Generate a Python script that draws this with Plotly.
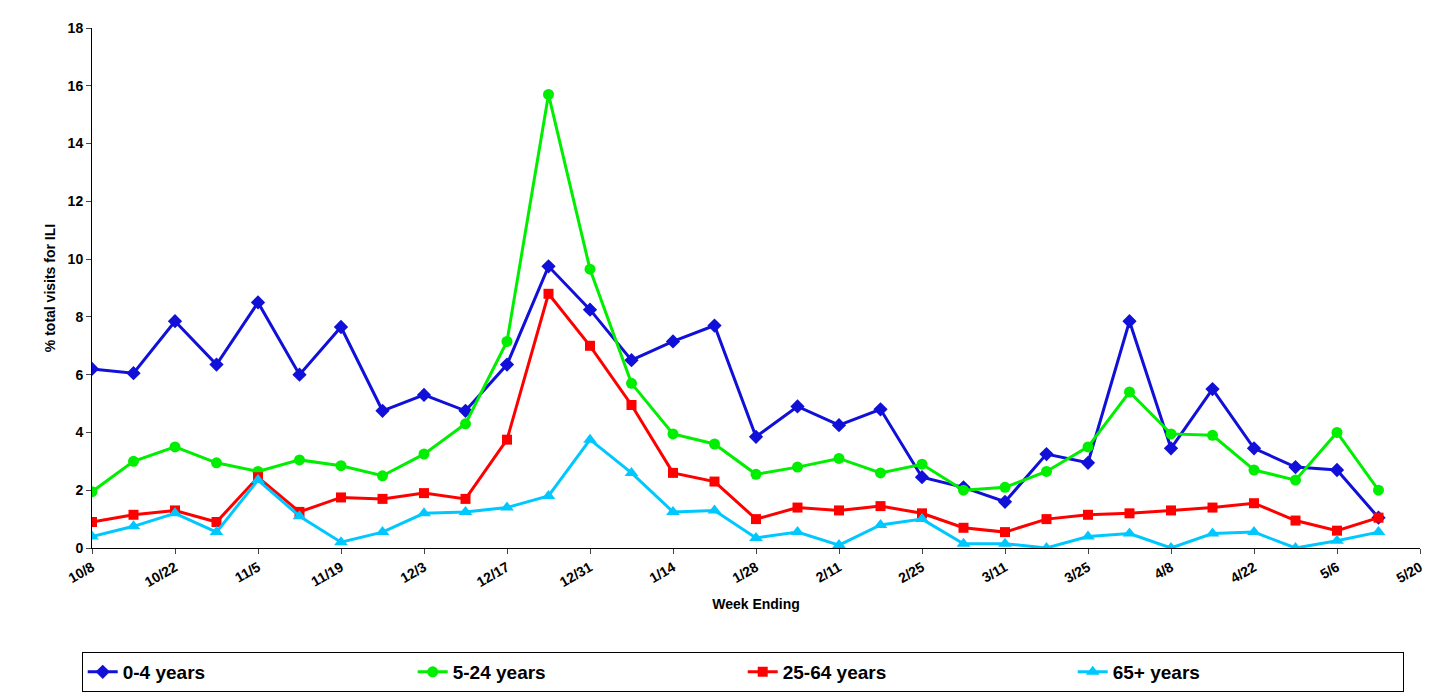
import plotly.graph_objects as go

weeks = ["10/8", "10/15", "10/22", "10/29", "11/5", "11/12", "11/19", "11/26", "12/3", "12/10",
         "12/17", "12/24", "12/31", "1/7", "1/14", "1/21", "1/28", "2/4", "2/11", "2/18",
         "2/25", "3/4", "3/11", "3/18", "3/25", "4/1", "4/8", "4/15", "4/22", "4/29", "5/6", "5/13"]
tick_labels = ["10/8", "10/22", "11/5", "11/19", "12/3", "12/17", "12/31", "1/14", "1/28",
               "2/11", "2/25", "3/11", "3/25", "4/8", "4/22", "5/6", "5/20"]

age_0_4 = [6.2, 6.05, 7.85, 6.35, 8.5, 6.0, 7.65, 4.75, 5.3, 4.75, 6.35, 9.75, 8.25, 6.5, 7.15, 7.7,
           3.85, 4.9, 4.25, 4.8, 2.45, 2.1, 1.6, 3.25, 2.95, 7.85, 3.45, 5.5, 3.45, 2.8, 2.7, 1.05]
age_5_24 = [1.95, 3.0, 3.5, 2.95, 2.65, 3.05, 2.85, 2.5, 3.25, 4.3, 7.15, 15.7, 9.65, 5.7, 3.95, 3.6,
            2.55, 2.8, 3.1, 2.6, 2.9, 2.0, 2.1, 2.65, 3.5, 5.4, 3.95, 3.9, 2.7, 2.35, 4.0, 2.0]
age_25_64 = [0.9, 1.15, 1.3, 0.9, 2.45, 1.25, 1.75, 1.7, 1.9, 1.7, 3.75, 8.8, 7.0, 4.95, 2.6, 2.3,
             1.0, 1.4, 1.3, 1.45, 1.2, 0.7, 0.55, 1.0, 1.15, 1.2, 1.3, 1.4, 1.55, 0.95, 0.6, 1.05]
age_65 = [0.4, 0.75, 1.2, 0.55, 2.35, 1.1, 0.2, 0.55, 1.2, 1.25, 1.4, 1.8, 3.75, 2.6, 1.25, 1.3,
          0.35, 0.55, 0.1, 0.8, 1.0, 0.15, 0.15, 0.0, 0.4, 0.5, 0.0, 0.5, 0.55, 0.0, 0.25, 0.55]

series = [
    ("0-4 years", age_0_4, "#1010d8", "diamond", 11),
    ("5-24 years", age_5_24, "#00ee00", "circle", 11),
    ("25-64 years", age_25_64, "#ff0000", "square", 10),
    ("65+ years", age_65, "#00c8ff", "triangle-up", 12),
]

x = list(range(len(weeks)))
fig = go.Figure()
for name, vals, color, sym, size in series:
    fig.add_trace(go.Scatter(
        x=x, y=vals, name=name, mode="lines+markers",
        line=dict(color=color, width=3),
        marker=dict(symbol=sym, size=size, color=color),
        text=weeks, hovertemplate="%{text}: %{y}<extra></extra>",
    ))

font = dict(family="Arial, Liberation Sans, sans-serif", color="black")
fig.update_layout(
    width=1432, height=696,
    margin=dict(l=84, r=20, t=18, b=147),
    paper_bgcolor="white", plot_bgcolor="white",
    font=font,
    showlegend=True,
    legend=dict(orientation="h", x=0.49, xanchor="center", y=-0.2, yanchor="top",
                bordercolor="black", borderwidth=1, entrywidth=285,
                font=dict(size=19, family=font["family"], color="black", weight="bold")),
    xaxis=dict(range=[0, 32], tickvals=list(range(0, 33, 2)), ticktext=tick_labels,
               tickangle=-30, ticks="outside", ticklen=5, showgrid=False,
               showline=True, linecolor="black", zeroline=False,
               tickfont=dict(size=14, weight="bold"),
               title=dict(text="<b>Week Ending</b>", font=dict(size=14), standoff=10)),
    yaxis=dict(range=[0, 18], dtick=2, ticks="outside", ticklen=5, showgrid=False,
               showline=True, linecolor="black", zeroline=False,
               tickfont=dict(size=14, weight="bold"),
               title=dict(text="<b>% total visits for ILI</b>", font=dict(size=14), standoff=8)),
)
fig.write_html("out.html")
